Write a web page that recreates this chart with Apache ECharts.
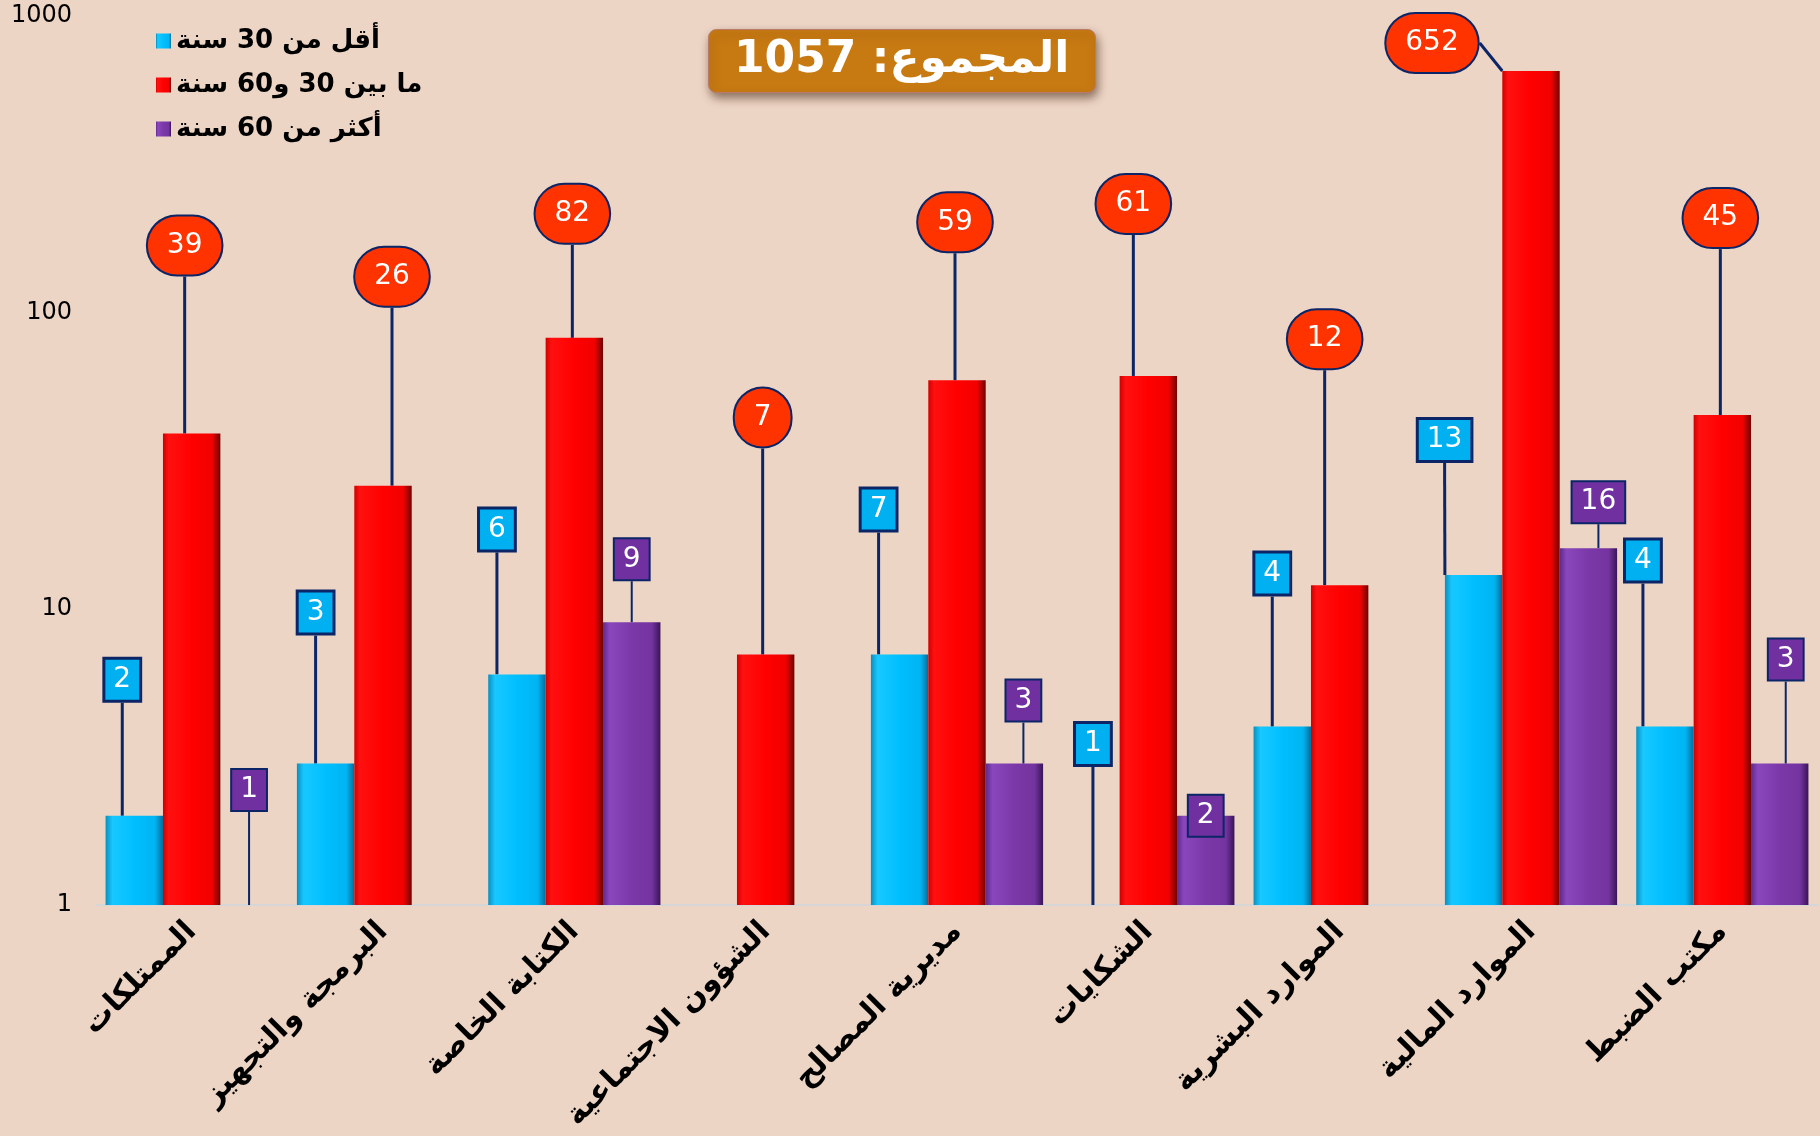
<!DOCTYPE html>
<html lang="ar">
  <head>
    <meta charset="UTF-8" />
    <title>المجموع</title>
    <script src="https://cdn.jsdelivr.net/npm/echarts@6/dist/echarts.min.js"></script>
    <style>
      html, body { margin: 0; padding: 0; background: #edd5c5; }
      #main { width: 1820px; height: 1136px; }
    </style>
  </head>
  <body>
    <div id="main"></div>
    <script type="text/javascript">
      var categories = [
        "الممتلكات",
        "البرمجة والتجهيز",
        "الكتابة الخاصة",
        "الشؤون الاجتماعية",
        "مديرية المصالح",
        "الشكايات",
        "الموارد البشرية",
        "الموارد المالية",
        "مكتب الضبط",
      ];
      var under30 = [2, 3, 6, null, 7, 1, 4, 13, 4];
      var between30and60 = [39, 26, 82, 7, 59, 61, 12, 652, 45];
      var over60 = [1, null, 9, null, 3, 2, null, 16, 3];
      var yTicks = [1, 10, 100, 1000];
      var total = 1057;

      // label offsets from the top centre of each bar (callout placement)
      var blueShift = [[-12, -136], [-10, -151], [-20, -145], [0, 0], [-21, -145], [2, -161], [-10, -153], [-29, -135], [-22, -166]];
      var redShift = [[-7, -188], [9, -209], [-2, -124], [-3, -237], [-2, -158], [-15, -172], [-15, -246], [-99, -28], [-2, -197]];
      var purpleShift = [[0, -115], [0, 0], [0, -63], [8, -62], [9, -63], [0, 0], [0, 0], [10, -46], [6, -104]];

      var chartDom = document.getElementById("main");
      var myChart = echarts.init(chartDom);

      function grad(stops) {
        return new echarts.graphic.LinearGradient(0, 0, 1, 0, stops);
      }

      function shiftLayout(shifts) {
        return function (p) {
          var s = shifts[p.dataIndex];
          return {
            x: p.rect.x + p.rect.width / 2 + s[0],
            y: p.rect.y + s[1],
            align: "center",
            verticalAlign: "middle",
          };
        };
      }

      var lineStyle = { color: "#0b2566", width: 3 };
      var numFont = "DejaVu Sans";

      var option = {
        backgroundColor: "#edd5c5",
        animation: false,
        title: {
          text: "المجموع: " + total,
          left: 708,
          top: 29,
          padding: [10, 26, 10, 26],
          backgroundColor: "#c87a12",
          borderRadius: 8,
          borderColor: "#b87a6a",
          borderWidth: 1,
          shadowBlur: 10,
          shadowColor: "rgba(60,30,10,0.55)",
          shadowOffsetX: 2,
          shadowOffsetY: 5,
          textStyle: {
            color: "#ffffff",
            fontSize: 44,
            fontWeight: "bold",
            fontFamily: "DejaVu Sans",
          },
        },
        legend: {
          orient: "vertical",
          left: 151,
          top: 23,
          itemWidth: 15,
          itemHeight: 15,
          itemGap: 18,
          icon: "rect",
          textStyle: {
            fontSize: 26,
            fontWeight: "bold",
            color: "#000",
            fontFamily: "DejaVu Sans",
          },
        },
        grid: {
          left: 96,
          right: 2,
          top: 16,
          bottom: 231,
          containLabel: false,
        },
        xAxis: {
          type: "category",
          data: categories,
          axisTick: { show: false },
          axisLine: { lineStyle: { color: "#d6d6d6", width: 2 } },
          axisLabel: {
            rotate: 45,
            margin: 22,
            interval: 0,
            color: "#000",
            fontSize: 30,
            fontWeight: "bold",
            fontFamily: "DejaVu Sans",
          },
        },
        yAxis: {
          type: "log",
          logBase: 10,
          min: yTicks[0],
          max: yTicks[yTicks.length - 1],
          splitLine: { show: false },
          axisLine: { show: false },
          axisTick: { show: false },
          axisLabel: {
            margin: 24,
            color: "#000",
            fontSize: 24,
            fontFamily: numFont,
            formatter: function (v) {
              return String(Math.round(v));
            },
          },
        },
        series: [
          {
            name: "أقل من 30 سنة",
            type: "bar",
            data: under30,
            barGap: "0%",
            barCategoryGap: "10%",
            itemStyle: {
              color: grad([
                { offset: 0, color: "#0a8fc0" },
                { offset: 0.12, color: "#18c8ff" },
                { offset: 0.5, color: "#00bfff" },
                { offset: 0.86, color: "#00b4f2" },
                { offset: 1, color: "#006d99" },
              ]),
            },
            label: {
              show: true,
              position: "top",
              color: "#fff",
              fontSize: 28,
              fontFamily: numFont,
              backgroundColor: "#00b0f0",
              borderColor: "#0b2566",
              borderWidth: 3,
              padding: [7, 8, 5, 8],
            },
            labelLine: { show: true, lineStyle: lineStyle },
            labelLayout: shiftLayout(blueShift),
          },
          {
            name: "ما بين 30 و60 سنة",
            type: "bar",
            data: between30and60,
            itemStyle: {
              color: grad([
                { offset: 0, color: "#d00000" },
                { offset: 0.1, color: "#ff1010" },
                { offset: 0.5, color: "#ff0000" },
                { offset: 0.85, color: "#f20000" },
                { offset: 1, color: "#700000" },
              ]),
            },
            label: {
              show: true,
              position: "top",
              color: "#fff",
              fontSize: 28,
              fontFamily: numFont,
              backgroundColor: "#ff3300",
              borderColor: "#0b2566",
              borderWidth: 2,
              borderRadius: 34,
              padding: [15, 19, 15, 19],
            },
            labelLine: { show: true, lineStyle: lineStyle },
            labelLayout: shiftLayout(redShift),
          },
          {
            name: "أكثر من 60 سنة",
            type: "bar",
            data: over60,
            itemStyle: {
              color: grad([
                { offset: 0, color: "#5e2a8c" },
                { offset: 0.12, color: "#8a47bd" },
                { offset: 0.5, color: "#7b38a8" },
                { offset: 0.85, color: "#7434a0" },
                { offset: 1, color: "#3a1458" },
              ]),
            },
            label: {
              show: true,
              position: "top",
              color: "#fff",
              fontSize: 28,
              fontFamily: numFont,
              backgroundColor: "#7030a0",
              borderColor: "#0b2566",
              borderWidth: 2,
              padding: [7, 8, 5, 8],
            },
            labelLine: { show: true, lineStyle: { color: "#0b2566", width: 2 } },
            labelLayout: shiftLayout(purpleShift),
          },
        ],
      };

      myChart.setOption(option);
    </script>
  </body>
</html>
